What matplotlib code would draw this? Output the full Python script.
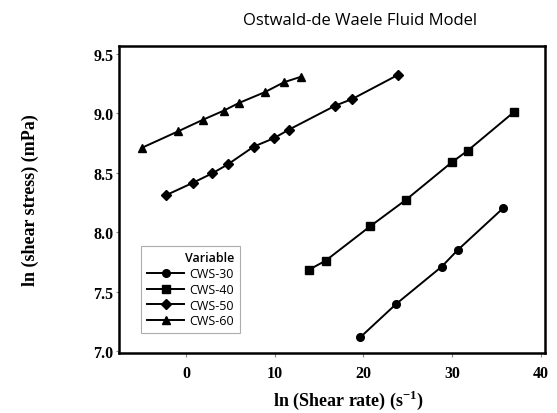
import matplotlib
matplotlib.use("Agg")
import matplotlib.pyplot as plt

plt.rcParams["mathtext.fontset"] = "custom"
plt.rcParams["mathtext.rm"] = "Liberation Serif:bold"
plt.rcParams["mathtext.bf"] = "Liberation Serif:bold"

cws30_x = [19.64, 23.70, 28.84, 30.65, 35.80]
cws30_y = [7.115, 7.396, 7.710, 7.850, 8.204]
cws40_x = [13.85, 15.73, 20.77, 24.83, 29.97, 31.77, 36.96]
cws40_y = [7.684, 7.760, 8.050, 8.274, 8.588, 8.686, 9.009]
cws50_x = [-2.24, 0.70, 2.95, 4.72, 7.61, 9.86, 11.59, 16.82, 18.74, 23.88]
cws50_y = [8.313, 8.414, 8.496, 8.572, 8.720, 8.790, 8.863, 9.065, 9.121, 9.323]
cws60_x = [-5.05, -0.92, 1.90, 4.23, 5.96, 8.85, 11.03, 12.98]
cws60_y = [8.709, 8.849, 8.947, 9.023, 9.088, 9.178, 9.262, 9.309]

series = [("CWS-30", cws30_x, cws30_y, "o"),
          ("CWS-40", cws40_x, cws40_y, "s"),
          ("CWS-50", cws50_x, cws50_y, "D"),
          ("CWS-60", cws60_x, cws60_y, "^")]
xticks = [0, 10, 20, 30, 40]
yticks = [7.0, 7.5, 8.0, 8.5, 9.0, 9.5]

fig = plt.figure(figsize=(5.57, 4.14), dpi=100)
ax = fig.add_axes([119/557, 1 - 354/414, (545-119)/557, (354-47)/414])

msizes = {"o": 5.5, "s": 6, "D": 5, "^": 6}
for name, xs, ys, m in series:
    ax.plot(xs, ys, color="black", lw=1.4, marker=m, ms=msizes[m], label=name)

ax.set_xlim(-7.6, 40.5)
ax.set_ylim(6.983, 9.567)
ax.set_xticks(xticks)
ax.set_yticks(yticks)
ax.set_xticklabels([str(t) for t in xticks], fontfamily="Liberation Serif", fontweight="bold", fontsize=11.5)
ax.set_yticklabels([f"{t:.1f}" for t in yticks], fontfamily="Liberation Serif", fontweight="bold", fontsize=11.5)
ax.tick_params(axis="x", direction="out", length=3, width=0.8, color="#888888", pad=6)
ax.tick_params(axis="y", direction="out", length=2, width=0.8, color="#888888", pad=2)
for s in ax.spines.values():
    s.set_linewidth(1.8)

fig.text(30/557, 1 - 200/414, "ln (shear stress) (mPa)", rotation=90, ha="center", va="center",
         fontfamily="Liberation Serif", fontweight="bold", fontsize=13)
fig.text(348/557, 1 - 400/414, r"ln (Shear rate) (s$^{\mathrm{-1}}$)", ha="center", va="center",
         fontfamily="Liberation Serif", fontweight="bold", fontsize=13)
fig.text(360/557, 1 - 21/414, "Ostwald-de Waele Fluid Model", ha="center", va="center",
         fontfamily="Open Sans", fontsize=12)

leg = ax.legend(title="Variable", loc="lower left", bbox_to_anchor=(0.052, 0.065),
                prop={"family": "Open Sans", "size": 9},
                title_fontproperties={"family": "Open Sans", "size": 9, "weight": "semibold"},
                handlelength=3.0, frameon=True, fancybox=False, edgecolor="#999999",
                labelspacing=0.22, borderpad=0.45, handletextpad=0.4, borderaxespad=0)
leg._legend_box.align = "right"
leg.get_frame().set_linewidth(0.8)

fig.savefig("out.png", dpi=100)
